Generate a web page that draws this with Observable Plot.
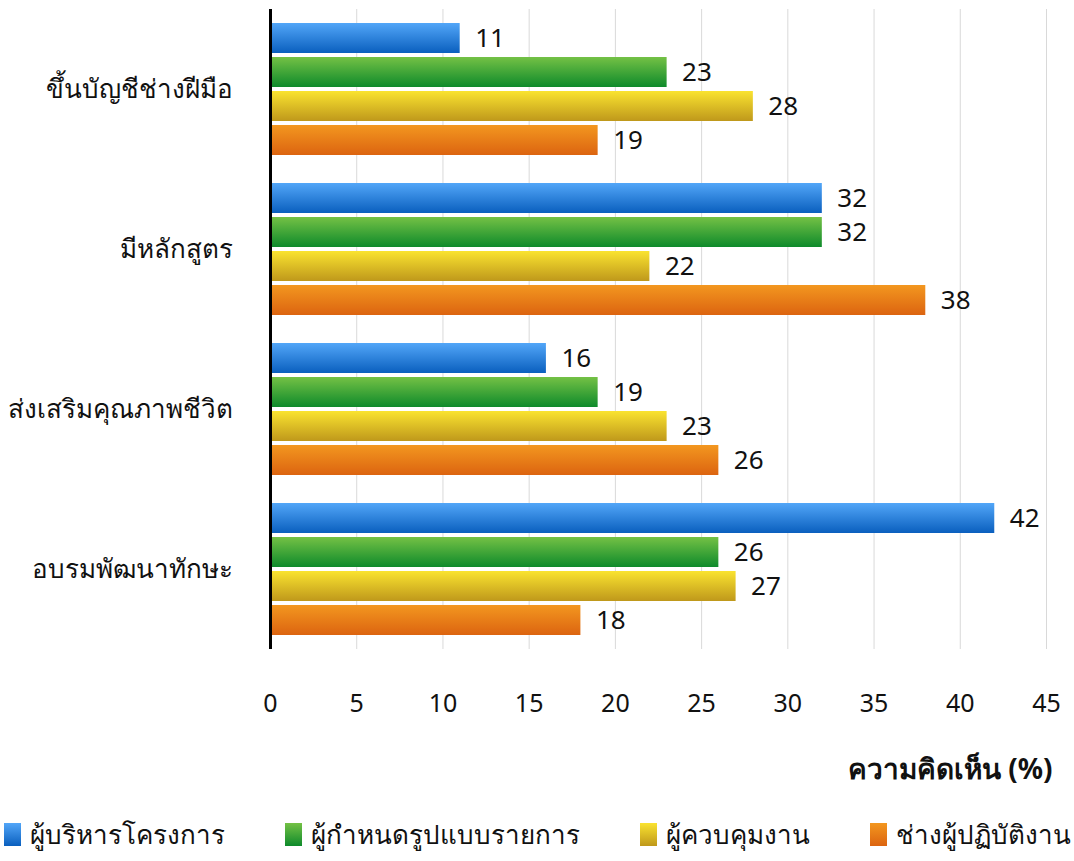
<!DOCTYPE html>
<html>
<head>
<meta charset="utf-8">
<script src="https://cdn.jsdelivr.net/npm/d3@7"></script>
<script src="https://cdn.jsdelivr.net/npm/@observablehq/plot@0.6"></script>
<style>
  body { margin: 0; background: #fff; font-family: "Noto Sans", sans-serif; }
  #legend { display: flex; align-items: center; justify-content: center; gap: 60px; margin-top: 14px; font-size: 26px; color: #111; }
  #legend .item { display: flex; align-items: center; gap: 9px; }
  #legend .sw { width: 17px; height: 23px; }
</style>
</head>
<body>
<svg width="0" height="0" style="position:absolute">
  <defs id="gdefs"></defs>
</svg>
<div id="chart"></div>
<div id="legend"></div>
<script>
const categories = ["ขึ้นบัญชีช่างฝีมือ", "มีหลักสูตร", "ส่งเสริมคุณภาพชีวิต", "อบรมพัฒนาทักษะ"];
const series = ["ผู้บริหารโครงการ", "ผู้กำหนดรูปแบบรายการ", "ผู้ควบคุมงาน", "ช่างผู้ปฏิบัติงาน"];
const managerValues  = [11, 32, 16, 42];
const designerValues = [23, 32, 19, 26];
const supervisorValues = [28, 22, 23, 27];
const workerValues   = [19, 38, 26, 18];
const xTicks = [0, 5, 10, 15, 20, 25, 30, 35, 40, 45];
const xLabel = "ความคิดเห็น (%)";
const gradTop = ["#52a6f8", "#74c145", "#fae330", "#f3971f"];
const gradBottom = ["#0a5fbe", "#0e8a2b", "#bf981b", "#dc6410"];

// gradients
const defs = d3.select("#gdefs");
series.forEach((s, i) => {
  const g = defs.append("linearGradient").attr("id", "g" + i)
    .attr("x1", 0).attr("y1", 0).attr("x2", 0).attr("y2", 1);
  g.append("stop").attr("offset", "0%").attr("stop-color", gradTop[i]);
  g.append("stop").attr("offset", "100%").attr("stop-color", gradBottom[i]);
});
const fills = series.map((s, i) => `url(#g${i})`);

const allValues = [managerValues, designerValues, supervisorValues, workerValues];
const data = [];
categories.forEach((c, ci) => {
  series.forEach((s, si) => data.push({category: c, series: s, value: allValues[si][ci]}));
});

const lastCat = categories[categories.length - 1];

const chart = Plot.plot({
  width: 1074,
  height: 800,
  marginLeft: 270,
  marginRight: 28,
  marginTop: 7,
  marginBottom: 150,
  style: {fontFamily: "Noto Sans, sans-serif", color: "#111"},
  x: {domain: [0, 45]},
  fy: {domain: categories, padding: 0},
  y: {domain: series, paddingInner: 0.13, paddingOuter: 0.394, axis: null},
  color: {domain: series, range: fills},
  marks: [
    Plot.gridX(xTicks, {stroke: "#d9d9d9", strokeOpacity: 1, strokeWidth: 1}),
    Plot.barX(data, {x: "value", y: "series", fy: "category", fill: "series"}),
    Plot.text(data, {x: "value", y: "series", fy: "category", text: d => String(d.value), textAnchor: "start", dx: 15, fontSize: 26, fill: "#111"}),
    Plot.ruleX([0], {stroke: "black", strokeWidth: 3}),
    Plot.axisX(xTicks, {tickSize: 0, tickPadding: 45, fontSize: 25, label: null}),
    Plot.text([xLabel], {fy: () => lastCat, frameAnchor: "bottom-right", dy: 129, dx: 6, textAnchor: "end", fontSize: 28, fontWeight: "bold", fill: "#111"}),
    Plot.axisFy({anchor: "left", tickSize: 0, tickPadding: 38, fontSize: 26, label: null})
  ]
});
document.getElementById("chart").appendChild(chart);

const legend = d3.select("#legend");
series.forEach((s, i) => {
  const it = legend.append("div").attr("class", "item");
  it.append("div").attr("class", "sw").style("background", `linear-gradient(${gradTop[i]}, ${gradBottom[i]})`);
  it.append("span").text(s);
});
</script>
</body>
</html>
